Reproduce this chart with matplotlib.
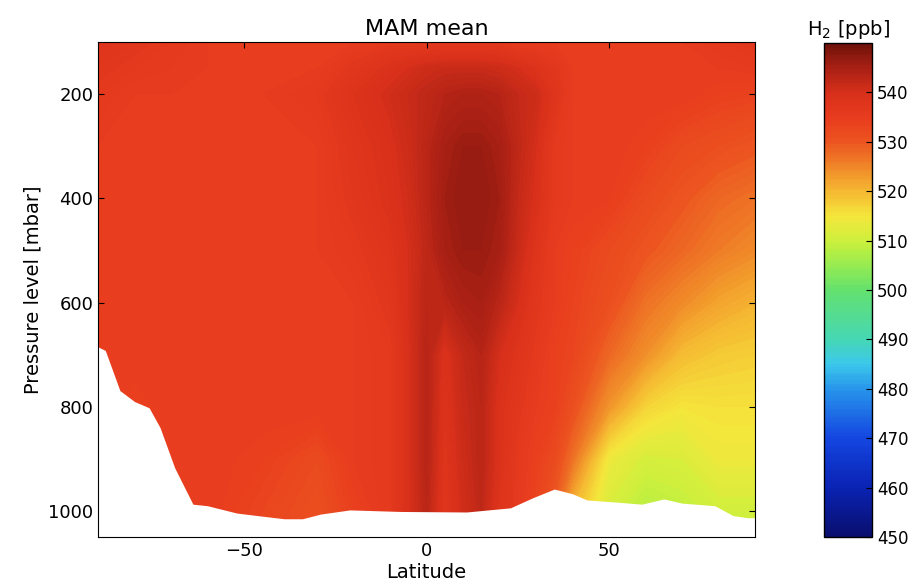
import numpy as np
from matplotlib import pyplot as plt
from matplotlib.colors import LinearSegmentedColormap

# latitude grid (deg) and pressure levels (mbar)
lats = [-90, -80, -70, -60, -45, -30, -20, -10, -5, 0, 5, 10, 15, 20, 25, 30, 35, 40, 50, 60, 70, 80, 90]
plevs = [100, 150, 200, 300, 400, 500, 600, 700, 800, 900, 1000, 1050]

# H2 mixing ratio [ppb], one row per pressure level
h2 = [
	[538, 537, 536, 535, 535, 535, 535, 536, 536, 536, 536, 536, 536, 536, 535, 535, 535, 535, 535, 535, 535, 536, 537],
	[537, 536, 535.5, 535, 535, 535, 537, 539, 540, 541, 541.5, 541.5, 541.5, 541, 540, 538.5, 537, 535, 535, 535, 535, 535, 535.5],
	[536, 535, 535, 535, 535, 536, 538.5, 540.5, 541.5, 542.5, 543.5, 544, 544, 543.5, 542, 541, 538, 535, 535, 535, 535, 534, 533.5],
	[535, 535, 535, 535, 535, 535, 537.5, 539.5, 541, 543, 545, 546, 546, 545, 542.5, 540, 536, 535, 535, 534, 532, 531, 530],
	[535, 535, 535, 535, 535, 535, 537, 539, 540.5, 543, 545.5, 546.5, 546.5, 545.5, 542, 539.5, 536, 535, 534.5, 532, 530, 528, 527],
	[535, 535, 535, 535, 535, 535, 536, 538, 540, 542.5, 545, 546, 546, 545, 541.5, 538, 535, 534, 532, 530, 528, 526, 524.5],
	[535, 535, 535, 535, 535, 535, 535, 537, 540, 543, 543, 544.5, 545, 543, 540, 537, 535, 533.5, 531, 527, 524.5, 522, 520.5],
	[535, 535, 535, 535, 535, 535, 535, 536, 539.5, 543.5, 539, 542, 543.5, 540, 538, 536, 534, 533, 528, 524, 519.5, 518, 517.5],
	[535, 534, 535, 535, 535, 535, 535, 536, 539.5, 543.5, 538.5, 541.5, 543, 539, 537, 535, 534, 531, 523.5, 517, 515, 515.5, 515.5],
	[535, 535, 535, 535, 534, 532, 535, 536, 539.5, 543.5, 538, 541, 543, 539, 536, 534, 532, 527, 514, 511, 511.5, 514, 514],
	[535, 535, 535, 535, 533, 531, 534, 536, 539.5, 543, 537.5, 540.5, 542.5, 538, 536, 533, 529, 520, 511, 508, 509, 510.5, 510.5],
	[535, 535, 535, 535, 533, 531, 534, 536, 539.5, 543, 537.5, 540.5, 542.5, 538, 536, 533, 529, 520, 511, 508, 509, 510.5, 510.5],
]

# surface pressure (below it there is no data)
lat_sfc = [-90, -88, -84, -80, -76, -73, -69, -64, -60, -52, -45, -39, -34, -29, -21, -7, 11, 23, 29, 35, 40, 44, 52, 59, 65, 70, 79, 84, 88, 90]
p_sfc = [685, 692, 769, 790, 802, 840, 917, 987, 990, 1004, 1010, 1015, 1015, 1006, 998, 1001, 1002, 994, 975, 958, 967, 979, 983, 987, 977, 985, 990, 1009, 1013, 1013]

cbar_ticks = [450, 460, 470, 480, 490, 500, 510, 520, 530, 540]

# colour scale as seen on the colour bar (value, rgb)
cmap_vals = [450, 460, 470, 480, 485, 490, 500, 505, 510, 515, 520, 525, 530, 535, 540, 545, 550]
cmap_rgb = [(10, 15, 110), (10, 35, 180), (20, 70, 225), (40, 150, 235), (60, 200, 235),
			(70, 215, 180), (100, 225, 110), (150, 235, 80), (205, 240, 60), (245, 230, 60),
			(245, 185, 50), (240, 135, 40), (236, 85, 32), (232, 60, 30), (215, 48, 26),
			(170, 32, 20), (110, 18, 10)]
cmap = LinearSegmentedColormap.from_list(
	'h2', [((v - 450) / 100.0, tuple(c / 255.0 for c in rgb)) for v, rgb in zip(cmap_vals, cmap_rgb)])

fig = plt.figure(figsize=(9.22, 5.87), dpi=100)
ax = fig.add_axes([98 / 922.0, 50 / 587.0, 657 / 922.0, 495 / 587.0])
cax = fig.add_axes([824 / 922.0, 50 / 587.0, 48 / 922.0, 494 / 587.0])

cf = ax.contourf(lats, plevs, np.array(h2), levels=np.arange(450, 550.25, 0.5), cmap=cmap, vmin=450, vmax=550)
ax.fill_between(lat_sfc, p_sfc, 1060, color='white', zorder=2, linewidth=0)

ax.set_xlim(-90, 90)
ax.set_ylim(1050, 100)
ax.set_xticks([-50, 0, 50])
ax.set_yticks([200, 400, 600, 800, 1000])
ax.tick_params(direction='in', top=True, right=True, labelsize=13, length=4)
ax.set_xlabel('Latitude', fontsize=14, labelpad=2)
ax.set_ylabel('Pressure level [mbar]', fontsize=14)
ax.set_title('MAM mean', fontsize=16, pad=5)
for s in ax.spines.values():
	s.set_zorder(5)

cb = fig.colorbar(cf, cax=cax, ticks=cbar_ticks)
cb.ax.tick_params(direction='in', labelsize=12, length=4)
cb.outline.set_linewidth(1)
cax.set_title('H$_2$ [ppb]', fontsize=14)

fig.savefig('out.png', dpi=100)
